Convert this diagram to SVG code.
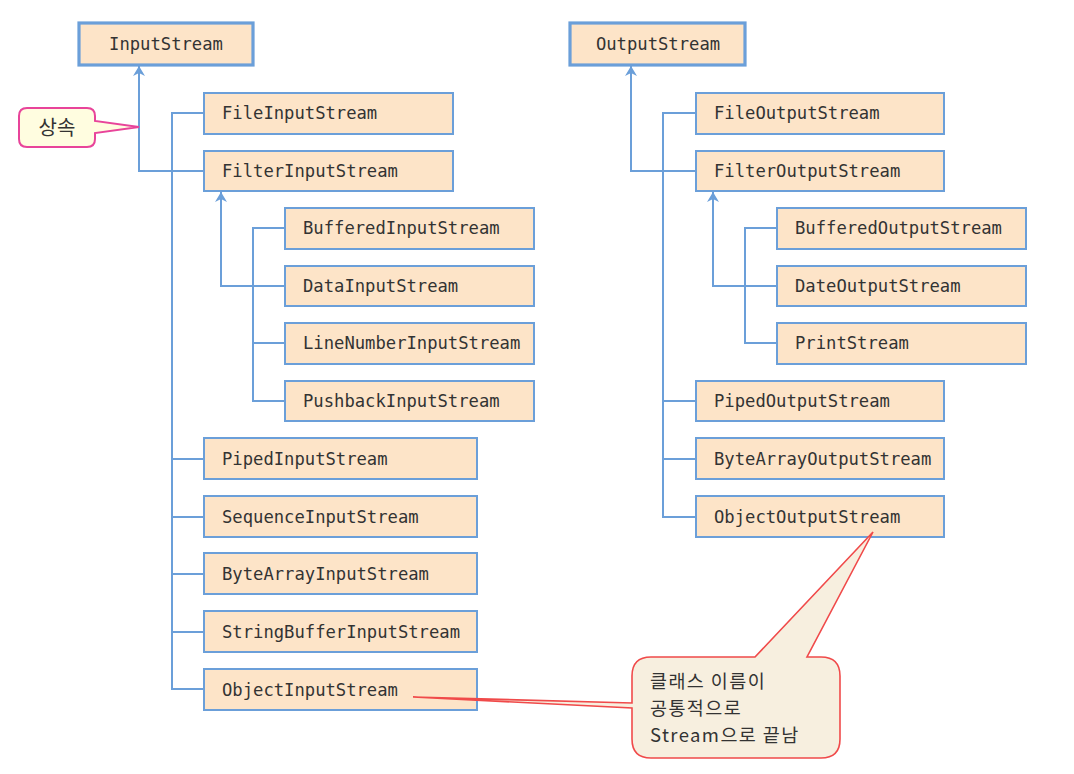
<svg xmlns="http://www.w3.org/2000/svg" width="1074" height="774" viewBox="0 0 1074 774">
<style>
.box{fill:#fde4c8;stroke:#6b9fd9;stroke-width:2}
.root{fill:#fde4c8;stroke:#6b9fd9;stroke-width:3.2}
.t{font-family:"DejaVu Sans Mono","Liberation Mono",monospace;font-size:17.2px;fill:#333}
.c{fill:none;stroke:#6b9fd9;stroke-width:2}
.k{font-family:"Noto Sans CJK KR","Noto Sans",sans-serif;font-size:20px;fill:#333}
.kc{font-family:"Noto Sans CJK KR","Noto Sans",sans-serif;font-size:18.5px;letter-spacing:1.4px;fill:#333}
</style>
<defs>
<marker id="ah" viewBox="0 0 10 12" refX="10" refY="6" markerWidth="6" markerHeight="6" orient="auto" markerUnits="strokeWidth">
<path d="M0,0 L10,6 L0,12 L3,6 Z" fill="#6b9fd9"/>
</marker>
</defs>
<rect width="1074" height="774" fill="#fff"/>
<g id="connectors">
<path class="c" d="M204,171 H139 V66" marker-end="url(#ah)"/>
<path class="c" d="M204,113 H172 V689 H204 M172,459 H204 M172,517 H204 M172,574 H204 M172,632 H204"/>
<path class="c" d="M285,286 H221 V192" marker-end="url(#ah)"/>
<path class="c" d="M285,228 H253 V401 H285 M253,343 H285"/>
<path class="c" d="M696,171 H631 V66" marker-end="url(#ah)"/>
<path class="c" d="M696,113 H663 V517 H696 M663,401 H696 M663,459 H696"/>
<path class="c" d="M777,286 H713 V192" marker-end="url(#ah)"/>
<path class="c" d="M777,228 H745 V343 H777"/>
</g>
<g id="InputStream"><rect class="root" x="79" y="23" width="174" height="42"/><text class="t" x="166" y="50" text-anchor="middle">InputStream</text></g>
<g id="FileInputStream"><rect class="box" x="204" y="93" width="249" height="41"/><text class="t" x="222" y="119">FileInputStream</text></g>
<g id="FilterInputStream"><rect class="box" x="204" y="151" width="249" height="40"/><text class="t" x="222" y="177">FilterInputStream</text></g>
<g id="BufferedInputStream"><rect class="box" x="285" y="208" width="249" height="41"/><text class="t" x="303" y="234">BufferedInputStream</text></g>
<g id="DataInputStream"><rect class="box" x="285" y="266" width="249" height="40"/><text class="t" x="303" y="292">DataInputStream</text></g>
<g id="LineNumberInputStream"><rect class="box" x="285" y="323" width="249" height="41"/><text class="t" x="303" y="349">LineNumberInputStream</text></g>
<g id="PushbackInputStream"><rect class="box" x="285" y="381" width="249" height="40"/><text class="t" x="303" y="407">PushbackInputStream</text></g>
<g id="PipedInputStream"><rect class="box" x="204" y="438" width="273" height="41"/><text class="t" x="222" y="465">PipedInputStream</text></g>
<g id="SequenceInputStream"><rect class="box" x="204" y="496" width="273" height="41"/><text class="t" x="222" y="523">SequenceInputStream</text></g>
<g id="ByteArrayInputStream"><rect class="box" x="204" y="553" width="273" height="41"/><text class="t" x="222" y="580">ByteArrayInputStream</text></g>
<g id="StringBufferInputStream"><rect class="box" x="204" y="611" width="273" height="41"/><text class="t" x="222" y="638">StringBufferInputStream</text></g>
<g id="ObjectInputStream"><rect class="box" x="204" y="669" width="273" height="41"/><text class="t" x="222" y="696">ObjectInputStream</text></g>
<g id="OutputStream"><rect class="root" x="570" y="23" width="175" height="42"/><text class="t" x="658" y="50" text-anchor="middle">OutputStream</text></g>
<g id="FileOutputStream"><rect class="box" x="696" y="93" width="248" height="41"/><text class="t" x="714" y="119">FileOutputStream</text></g>
<g id="FilterOutputStream"><rect class="box" x="696" y="151" width="248" height="40"/><text class="t" x="714" y="177">FilterOutputStream</text></g>
<g id="BufferedOutputStream"><rect class="box" x="777" y="208" width="249" height="41"/><text class="t" x="795" y="234">BufferedOutputStream</text></g>
<g id="DateOutputStream"><rect class="box" x="777" y="266" width="249" height="40"/><text class="t" x="795" y="292">DateOutputStream</text></g>
<g id="PrintStream"><rect class="box" x="777" y="323" width="249" height="41"/><text class="t" x="795" y="349">PrintStream</text></g>
<g id="PipedOutputStream"><rect class="box" x="696" y="381" width="248" height="40"/><text class="t" x="714" y="407">PipedOutputStream</text></g>
<g id="ByteArrayOutputStream"><rect class="box" x="696" y="438" width="248" height="41"/><text class="t" x="714" y="465">ByteArrayOutputStream</text></g>
<g id="ObjectOutputStream"><rect class="box" x="696" y="496" width="248" height="41"/><text class="t" x="714" y="523">ObjectOutputStream</text></g>
<g id="callout-inherit">
<path d="M27,108 H87 Q95,108 95,116 V121 L139,127 L95,133 V139 Q95,147 87,147 H27 Q19,147 19,139 V116 Q19,108 27,108 Z" fill="#fffde0" stroke="#e8449a" stroke-width="2"/>
<text class="k" x="57" y="135" text-anchor="middle">상속</text>
</g>
<g id="callout-stream">
<path d="M651,657 H755 L873,532 L807,657 H821 Q840,657 840,676 V739 Q840,758 821,758 H651 Q632,758 632,739 V708 L413,697 L632,703 V676 Q632,657 651,657 Z" fill="#f7efdf" stroke="#f04a4a" stroke-width="1.6"/>
<text class="kc" x="650" y="688">클래스 이름이</text>
<text class="kc" x="650" y="715">공통적으로</text>
<text class="kc" x="650" y="742">Stream으로 끝남</text>
</g>
</svg>
